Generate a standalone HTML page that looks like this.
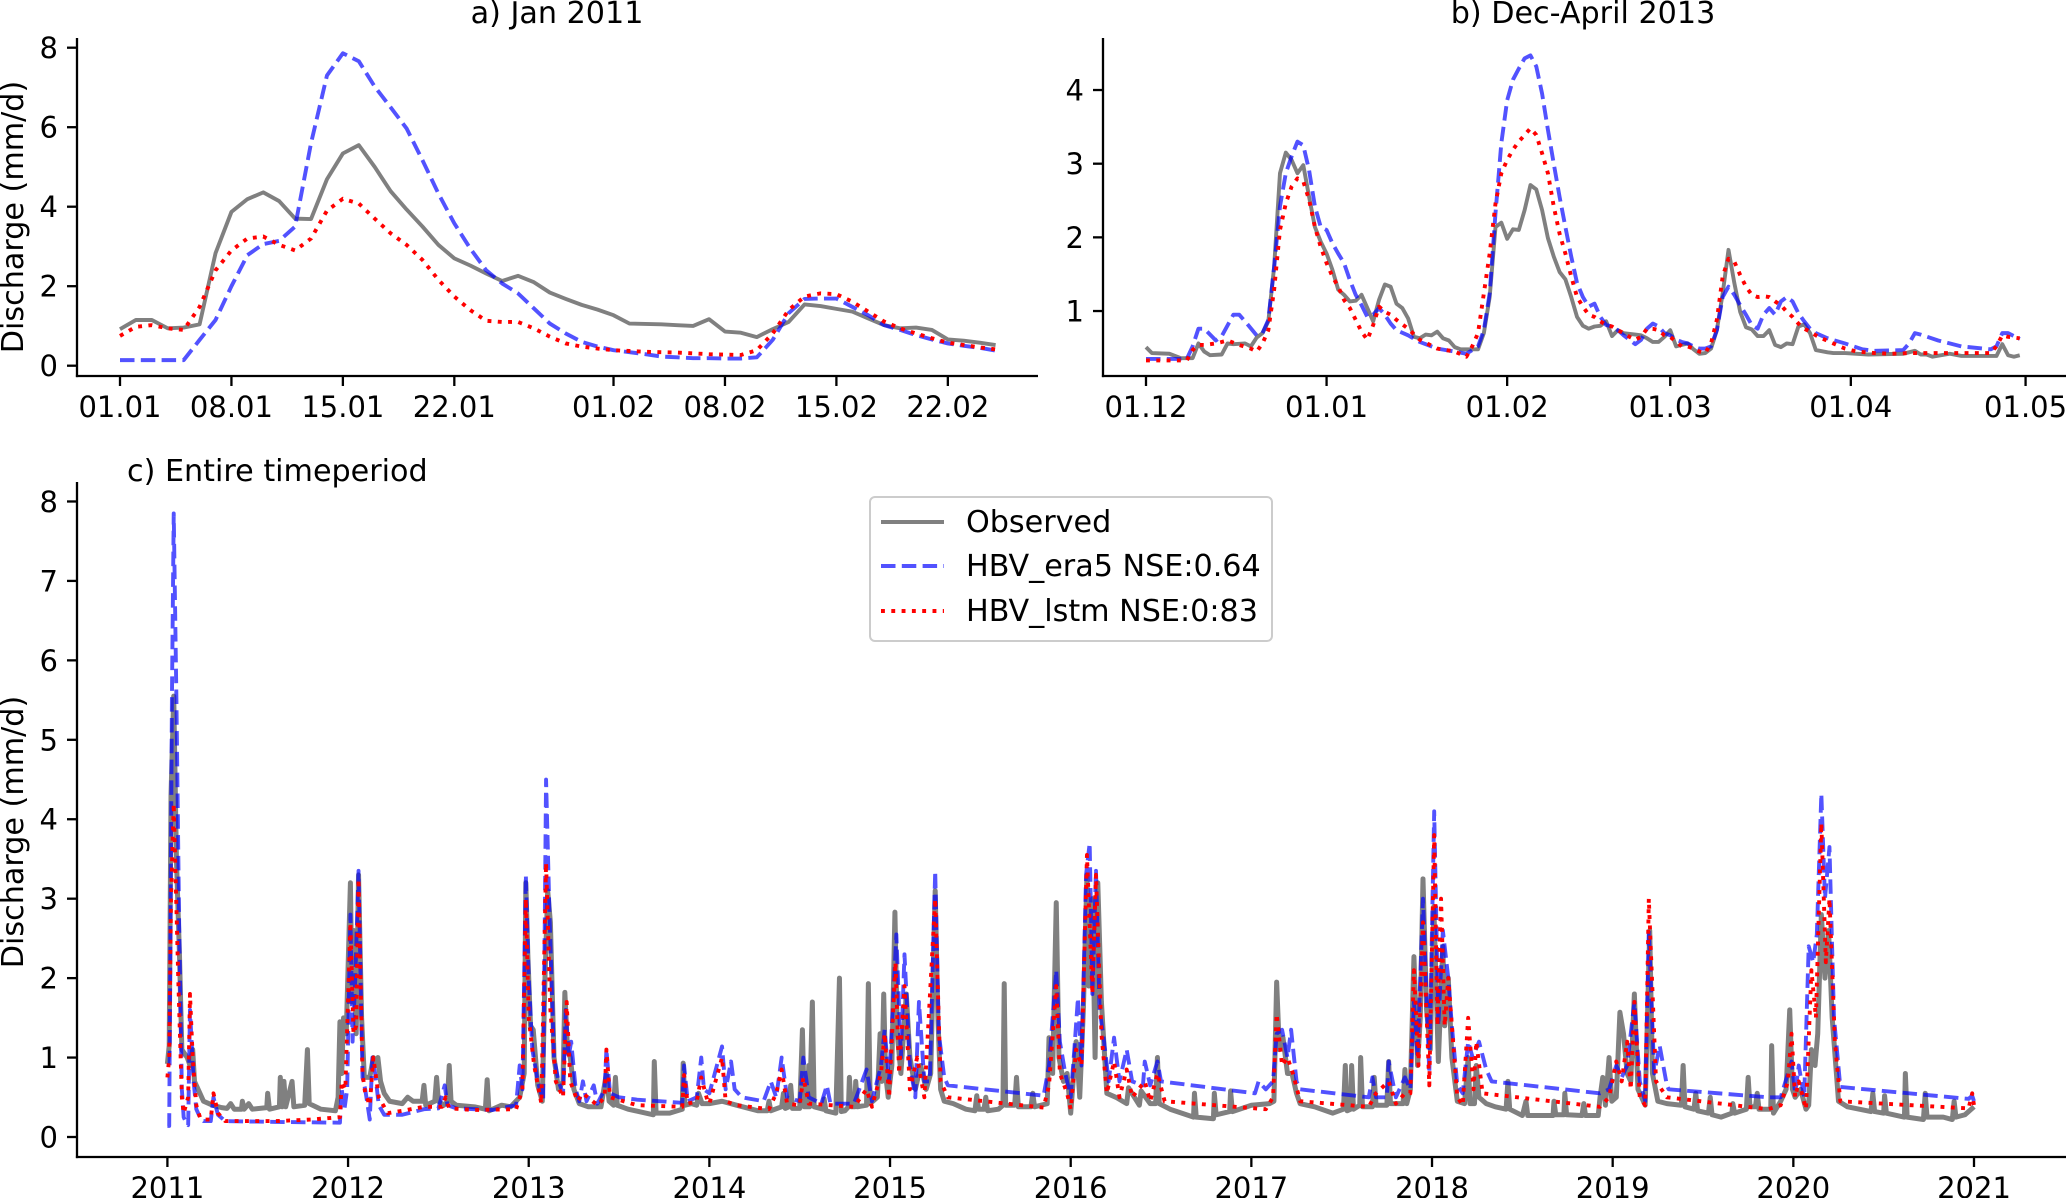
<!DOCTYPE html>
<html lang="en">
<head>
<meta charset="utf-8">
<title>Discharge comparison</title>
<style>
html,body{margin:0;padding:0;background:#fff;width:2067px;height:1198px;overflow:hidden}
svg{display:block}
text{font-family:"DejaVu Sans","Liberation Sans",sans-serif;font-size:29px;fill:#000}
text.big{font-size:30.2px}
</style>
</head>
<body>
<svg id="figure" width="2067" height="1198" viewBox="0 0 2067 1198" xmlns="http://www.w3.org/2000/svg">
  <rect width="2067" height="1198" fill="#fff"/>
  <g id="panel-a"></g>
  <g id="panel-b"></g>
  <g id="panel-c"></g>
  <text class="big" x="557" y="23" text-anchor="middle">a) Jan 2011</text>
  <text class="big" x="1583" y="23" text-anchor="middle">b) Dec-April 2013</text>
  <text class="big" x="127" y="481">c) Entire timeperiod</text>
  <text class="big" transform="translate(23,217) rotate(-90)" text-anchor="middle">Discharge (mm/d)</text>
  <text class="big" transform="translate(23,832) rotate(-90)" text-anchor="middle">Discharge (mm/d)</text>
  <g>
    <rect x="870" y="497" width="402" height="144" rx="5" fill="#fff" fill-opacity="0.8" stroke="#ccc" stroke-width="2"/>
    <line x1="881" x2="944" y1="522" y2="522" stroke="#808080" stroke-width="3.9"/>
    <text class="big" x="966" y="532">Observed</text>
    <line x1="881" x2="944" y1="566" y2="566" stroke="#0000ff" stroke-opacity="0.68" stroke-width="3.9" stroke-dasharray="14.5 6.3"/>
    <text class="big" x="966" y="576">HBV_era5 NSE:0.64</text>
    <line x1="881" x2="944" y1="611" y2="611" stroke="#ff0000" stroke-width="3.9" stroke-dasharray="3.9 6.4"/>
    <text class="big" x="966" y="621">HBV_lstm NSE:0:83</text>
  </g>
</svg>
<script>
// ---- Panel a: daily discharge, 1 Jan 2011 onward ----
const aObserved = [.92,1.15,1.15,.94,.96,1.04,2.83,3.87,4.19,4.36,4.14,3.7,3.69,4.69,5.34,5.55,5,4.39,3.93,3.5,3.04,2.7,2.52,2.32,2.13,2.26,2.1,1.84,1.68,1.53,1.41,1.27,1.06,1.05,1.04,1.02,1,1.17,.86,.83,.72,.92,1.1,1.54,1.5,1.43,1.36,1.19,1.02,.94,.96,.9,.66,.63,.58,.52];
const aEra5 = [.14,.14,.14,.14,.14,.65,1.15,2,2.78,3.06,3.14,3.5,5.6,7.3,7.86,7.66,7.02,6.5,5.97,5.17,4.33,3.58,2.95,2.4,2.07,1.82,1.44,1.06,.81,.6,.48,.39,.34,.29,.23,.21,.19,.19,.18,.18,.21,.65,1.32,1.68,1.69,1.69,1.48,1.27,1.02,.9,.77,.66,.56,.5,.45,.38];
const aLstm = [.75,.98,1.02,.94,.9,1.48,2.4,2.9,3.2,3.25,3.04,2.9,3.2,3.9,4.2,4.08,3.7,3.33,3.04,2.66,2.16,1.74,1.4,1.13,1.1,1.1,.94,.73,.56,.48,.43,.39,.37,.35,.34,.33,.31,.29,.28,.27,.39,.81,1.4,1.74,1.82,1.8,1.61,1.36,1.11,.94,.81,.69,.58,.52,.46,.41];
const aTickDays = [0,7,14,21,31,38,45,52];
const aTickLabels = ["01.01","08.01","15.01","22.01","01.02","08.02","15.02","22.02"];
const aYTicks = [0,2,4,6,8];

// ---- Panel b: read vertices, day index from 1 Dec 2012 ----
const bObservedDays = [0,1,4,6,8,9,10,11,13,14,15,17,18,19,20,21,22,23,24,25,26,27,28,29,30,31,32,33,34,35,36,37,38,39,40,41,42,43,44,45,46,47,48,49,50,51,52,53,54,57,58,59,60,61,62,63,64,65,66,67,68,69,70,71,72,73,74,75,76,77,78,79,80,81,82,84,85,86,87,88,89,90,91,92,93,94,95,96,97,98,99,100,101,102,103,104,105,106,107,108,109,110,111,112,113,114,115,117,118,120,124,130,132,133,134,135,138,140,146,147,148,149,150];
const bObserved = [.51,.43,.42,.36,.36,.56,.45,.4,.41,.56,.55,.56,.52,.64,.7,.86,1.6,2.87,3.15,3.05,2.87,2.98,2.55,2.14,1.94,1.78,1.56,1.29,1.22,1.13,1.14,1.22,1.04,.86,1.15,1.36,1.33,1.1,1.04,.9,.65,.63,.68,.67,.72,.63,.6,.51,.48,.48,.7,1.19,2.14,2.2,1.98,2.11,2.1,2.37,2.71,2.65,2.37,1.99,1.74,1.53,1.43,1.19,.92,.8,.76,.79,.8,.86,.66,.74,.7,.68,.67,.63,.58,.58,.65,.74,.52,.54,.56,.48,.42,.43,.49,.74,1.24,1.83,1.38,.99,.78,.75,.66,.66,.74,.54,.51,.56,.55,.79,.82,.7,.47,.44,.43,.43,.41,.42,.46,.41,.41,.38,.42,.39,.39,.55,.4,.38,.4];
const bEra5Days = [0,7,8,9,10,12,13,15,16,17,19,20,21,22,23,24,25,26,27,28,29,30,31,32,33,34,35,36,37,38,39,40,41,42,43,45,47,50,53,55,57,58,59,60,61,62,63,64,65,66,67,68,69,70,71,72,73,74,75,76,77,78,79,80,81,82,83,84,85,86,87,88,89,90,91,92,93,94,95,96,97,98,99,100,101,102,103,104,105,106,107,108,109,110,111,112,113,114,115,117,120,123,125,130,131,132,133,136,140,145,146,147,148,150];
const bEra5 = [.35,.35,.52,.76,.76,.6,.66,.95,.95,.86,.67,.7,.88,1.6,2.42,2.87,3.1,3.3,3.25,2.91,2.42,2.14,2.1,1.92,1.78,1.65,1.42,1.22,1.08,.92,.95,1.04,.95,.83,.74,.67,.58,.49,.45,.42,.52,.74,1.24,2.33,3.28,3.86,4.14,4.29,4.43,4.47,4.32,3.95,3.46,3,2.55,2.14,1.74,1.38,1.19,1.06,1.1,.92,.81,.79,.74,.67,.61,.55,.61,.76,.83,.79,.7,.67,.61,.58,.56,.52,.49,.49,.52,.74,1.19,1.33,1.22,1.08,.95,.81,.76,.95,1.04,.95,1.13,1.19,1.13,.97,.86,.76,.7,.63,.56,.48,.46,.47,.56,.7,.68,.6,.52,.48,.52,.7,.7,.62];
const bLstmDays = [0,7,8,9,10,12,14,16,18,19,20,21,22,23,24,25,26,27,28,29,30,31,32,33,34,35,36,37,38,39,40,41,42,43,45,47,50,53,55,56,57,58,59,60,61,62,63,64,65,66,67,68,69,70,71,72,73,74,75,76,77,78,79,80,81,82,83,84,85,86,87,88,89,90,91,92,93,94,95,96,97,98,99,100,101,102,103,104,105,106,107,108,109,110,111,112,113,114,115,116,118,120,122,125,128,131,135,140,145,146,147,148,150];
const bLstm = [.33,.33,.47,.54,.54,.56,.6,.54,.49,.45,.56,.74,1.29,2.1,2.46,2.69,2.8,2.76,2.51,2.14,1.87,1.65,1.47,1.33,1.15,1.04,.88,.72,.61,.81,1.06,.99,.95,.88,.76,.61,.49,.45,.38,.52,.7,1.24,1.78,2.46,2.87,3.05,3.19,3.3,3.39,3.48,3.39,3.14,2.87,2.42,2.05,1.78,1.47,1.19,1.06,.95,.92,.86,.81,.79,.74,.7,.65,.61,.65,.76,.76,.74,.67,.65,.58,.52,.52,.49,.45,.43,.56,.88,1.47,1.71,1.67,1.49,1.33,1.22,1.19,1.2,1.19,1.13,1.08,.99,.92,.83,.76,.72,.67,.63,.56,.49,.45,.43,.42,.43,.43,.43,.43,.52,.67,.65,.63];
const bTickDays = [0,31,62,90,121,151];
const bTickLabels = ["01.12","01.01","01.02","01.03","01.04","01.05"];
const bYTicks = [1,2,3,4];

// ---- Panel c: read vertices, decimal years ----
const cObservedYears = [
2011,2011.01,2011.02,2011.035,2011.05,2011.067,2011.08,2011.11,2011.125,2011.14,2011.15,2011.17,2011.2,2011.25,2011.3,2011.33,2011.35,2011.37,
2011.41,2011.415,2011.425,2011.45,2011.47,2011.55,2011.555,2011.565,2011.62,2011.625,2011.635,2011.645,2011.655,2011.69,2011.7,2011.76,2011.775,2011.785,2011.85,2011.93,2011.945,
2011.955,2011.965,2011.975,2011.99,2012.013,2012.022,2012.032,2012.045,2012.058,2012.075,2012.09,2012.12,2012.14,2012.155,2012.165,2012.18,2012.2,2012.23,
2012.3,2012.33,2012.36,2012.41,2012.42,2012.43,2012.48,2012.49,2012.5,2012.53,2012.55,2012.56,2012.57,2012.6,2012.7,2012.76,2012.77,2012.78,2012.85,2012.9,2012.95,
2012.975,2012.984,2012.995,2013.01,2013.025,2013.05,2013.075,2013.09,2013.105,2013.12,2013.14,2013.165,2013.19,2013.2,2013.215,2013.23,2013.25,2013.28,
2013.33,2013.4,2013.43,2013.445,2013.47,2013.48,2013.49,2013.55,2013.65,2013.69,2013.695,2013.705,2013.78,2013.85,2013.855,2013.865,2013.9,2013.93,2013.94,2013.96,
2014,2014.07,2014.15,2014.27,2014.32,2014.33,2014.34,2014.4,2014.41,2014.42,2014.44,2014.45,2014.46,2014.5,2014.515,2014.525,2014.545,2014.55,2014.555,2014.57,2014.58,2014.63,2014.635,2014.645,2014.7,2014.72,2014.73,2014.75,
2014.77,2014.775,2014.785,2014.805,2014.81,2014.82,2014.87,2014.88,2014.89,2014.93,2014.945,2014.955,2014.965,2014.975,2014.99,2015.01,2015.027,2015.04,2015.06,2015.09,2015.11,2015.14,2015.17,2015.2,2015.225,2015.25,2015.265,2015.28,2015.3,
2015.35,2015.42,2015.47,2015.48,2015.49,2015.52,2015.53,2015.54,2015.6,2015.625,2015.632,2015.64,2015.69,2015.7,2015.71,2015.78,2015.79,2015.8,2015.87,2015.88,2015.9,2015.92,2015.935,2015.96,2015.98,
2016,2016.03,2016.05,2016.07,2016.09,2016.1,2016.12,2016.135,2016.15,2016.17,2016.2,2016.25,2016.31,2016.32,2016.38,2016.39,2016.44,2016.47,2016.48,2016.49,2016.55,2016.68,2016.685,2016.695,2016.79,2016.795,2016.805,2016.88,2016.885,2016.895,
2017,2017.1,2017.125,2017.14,2017.155,2017.175,2017.2,2017.225,2017.25,2017.27,2017.35,2017.45,2017.51,2017.52,2017.53,2017.55,2017.555,2017.565,2017.6,2017.605,2017.615,2017.67,2017.68,2017.69,2017.75,2017.76,2017.77,2017.84,2017.85,2017.86,
2017.88,2017.9,2017.92,2017.935,2017.95,2017.97,2017.99,2018.01,2018.035,2018.06,2018.07,2018.09,2018.11,2018.14,2018.18,2018.2,2018.21,2018.235,2018.245,2018.26,2018.3,2018.35,2018.41,2018.42,2018.43,2018.5,2018.52,2018.53,2018.58,2018.67,2018.675,2018.685,2018.73,2018.735,2018.745,2018.83,2018.84,2018.85,2018.92,
2018.93,2018.945,2018.96,2018.98,2018.995,2019.02,2019.04,2019.06,2019.08,2019.1,2019.12,2019.14,2019.16,2019.18,2019.205,2019.22,2019.25,2019.3,2019.38,2019.39,2019.4,2019.45,2019.46,2019.47,2019.53,2019.54,2019.55,2019.6,2019.66,2019.665,2019.675,2019.74,2019.75,2019.76,2019.79,2019.8,2019.81,2019.875,2019.88,2019.89,2019.93,2019.96,2019.98,2019.995,
2020.01,2020.04,2020.07,2020.085,2020.1,2020.12,2020.135,2020.155,2020.175,2020.195,2020.215,2020.25,2020.3,2020.43,2020.44,2020.45,2020.5,2020.505,2020.515,2020.615,2020.62,2020.63,2020.72,2020.73,2020.74,2020.83,2020.88,2020.89,2020.9,2020.95,2021];
const cObserved = [
.92,1.15,4.3,5.55,3.5,2.28,1.1,1,.9,1.1,.7,.6,.45,.4,.37,.36,.42,.35,
.35,.45,.35,.42,.35,.37,.55,.35,.38,.75,.38,.7,.38,.7,.38,.4,1.1,.42,.35,.33,.5,
1.45,.8,1.5,1.3,3.2,1.7,2.6,1.3,3.3,1.5,.75,.75,1,.9,1,.7,.55,.45,
.42,.5,.45,.45,.65,.4,.45,.75,.45,.4,.45,.9,.45,.4,.38,.35,.72,.33,.4,.38,.5,
.8,3.2,2.3,1.4,1.35,.65,.45,2,3.1,2.7,1,.6,.7,1.82,1.1,1,.6,.42,
.38,.38,.8,.45,.4,.75,.4,.35,.3,.28,.95,.3,.3,.35,.93,.4,.42,.4,.55,.42,
.42,.45,.4,.33,.33,.45,.33,.38,.55,.36,.38,.65,.36,.36,1.35,.38,.38,.9,.38,1.7,.38,.35,.48,.33,.3,2,.32,.33,
.38,.75,.38,.38,.7,.38,.4,1.93,.42,.5,1.3,.7,1.8,.8,.5,.9,2.83,1.3,.8,1.8,1,.6,.9,.6,.8,3.1,1.5,.6,.45,
.42,.35,.33,.52,.35,.35,.5,.33,.35,.4,1.93,.4,.4,.75,.38,.38,.55,.38,.42,1.25,.8,2.95,1,.7,.8,
.3,1.2,.5,1.6,3.3,1.9,3,1,3.2,1.7,.55,.5,.42,.62,.4,.58,.42,.42,1,.42,.35,.25,.55,.25,.23,.55,.28,.32,.58,.32,
.4,.42,.45,1.95,1.1,1.25,.8,.8,.55,.42,.38,.3,.35,.9,.33,.35,.9,.35,.4,1,.38,.38,.75,.4,.4,.95,.42,.42,.85,.42,
.6,2.27,.9,1.5,3.25,1.6,1.1,2.9,.95,2.4,1.4,2,1,.45,.42,1,.42,.42,.9,.5,.42,.38,.35,.7,.35,.27,.45,.27,.27,.27,.45,.28,.28,.55,.28,.27,.42,.27,.27,
.5,.75,.4,1,.45,.5,1.57,1.3,.8,.7,1.8,.6,.5,.4,2.6,.8,.45,.42,.4,.9,.38,.35,.55,.33,.3,.5,.28,.25,.3,.42,.3,.35,.75,.38,.38,.55,.35,.35,1.15,.3,.45,.6,1.6,.6,
.5,.6,.35,.4,1.1,.9,1.3,2.8,2,2.6,1.5,.45,.38,.32,.55,.32,.3,.52,.3,.25,.8,.25,.22,.55,.25,.25,.22,.45,.25,.28,.38];

const cEra5Years = [
2011,2011.01,2011.025,2011.035,2011.05,2011.065,2011.08,2011.09,2011.1,2011.115,2011.125,2011.145,2011.16,2011.18,2011.2,2011.24,2011.255,2011.28,2011.32,2011.6,2011.955,
2011.965,2011.98,2011.995,2012.013,2012.025,2012.04,2012.058,2012.08,2012.095,2012.12,2012.135,2012.15,2012.17,2012.2,2012.3,2012.42,2012.5,2012.535,2012.55,2012.6,2012.8,2012.93,
2012.95,2012.965,2012.984,2013,2013.02,2013.05,2013.08,2013.096,2013.115,2013.14,2013.165,2013.19,2013.205,2013.22,2013.235,2013.26,2013.28,2013.3,2013.32,2013.36,2013.38,2013.42,2013.43,2013.45,2013.5,2013.6,2013.85,2013.86,2013.88,2013.93,2013.955,2013.97,
2014,2014.07,2014.09,2014.12,2014.14,2014.18,2014.3,2014.34,2014.37,2014.4,2014.43,2014.5,2014.52,2014.55,2014.62,2014.65,2014.67,2014.8,2014.87,2014.9,2014.95,2014.97,2014.995,2015.035,2015.06,2015.08,2015.11,2015.14,2015.16,2015.19,2015.22,2015.25,2015.27,2015.3,2015.32,2015.85,2015.88,
2015.92,2015.94,2015.97,2016,2016.02,2016.04,2016.06,2016.085,2016.105,2016.12,2016.14,2016.16,2016.185,2016.21,2016.24,2016.27,2016.31,2016.34,2016.4,2016.41,2016.44,2016.48,2016.5,2017.02,2017.04,2017.08,2017.12,2017.14,2017.17,2017.2,2017.22,2017.25,2017.27,2017.65,2017.67,2017.69,2017.75,2017.76,2017.8,2017.85,2017.88,
2017.9,2017.92,2017.95,2017.985,2018.012,2018.035,2018.06,2018.09,2018.11,2018.14,2018.17,2018.2,2018.225,2018.26,2018.3,2018.33,2018.93,2018.98,2019.02,2019.05,2019.08,2019.12,2019.15,2019.18,2019.2,2019.23,2019.26,2019.3,2019.31,2019.86,2019.93,2019.99,2020.01,2020.03,2020.06,2020.085,2020.11,2020.13,2020.155,2020.175,2020.2,2020.225,2020.26,2020.97,2020.99,2021];
const cEra5 = [
.14,.14,5.5,7.85,5.5,2.7,.6,.25,.2,.15,1.6,.7,.35,.25,.2,.2,.5,.28,.2,.19,.18,
.6,.35,.6,2.8,1.2,2,3.35,.75,.6,.22,1,.8,.4,.28,.28,.35,.36,.65,.4,.36,.34,.4,
.9,.6,3.3,2,1.1,.7,.45,4.5,2.8,1,.7,.55,1.6,1,1.2,.6,.45,.7,.45,.65,.42,.6,1.1,.55,.5,.47,.43,.9,.45,.5,1,.6,
.55,1.14,.6,.95,.6,.5,.45,.7,.5,1,.5,.45,1,.5,.42,.65,.42,.42,.85,.45,.9,1.35,.7,2.55,1,2.3,.9,.5,1.7,.7,.7,3.35,1.3,.75,.65,.52,.9,
2.1,1.2,.8,.5,1.1,1.75,.9,3.3,3.7,1.8,3.35,1.6,1.2,.7,1.25,.7,1.1,.7,.65,.95,.65,.95,.7,.55,.7,.6,.7,1.3,1.35,1,1.35,.7,.6,.5,.75,.5,.5,.95,.5,.75,.6,
1.7,1,3,.8,4.1,1.4,2.6,2,1.4,.65,.55,1.2,1,1.2,.85,.7,.55,.6,.9,.75,.9,1.7,.7,.45,2.6,.8,1.15,.65,.6,.5,.5,.95,.55,.9,.5,2.4,2.2,2.55,4.32,3,3.65,1.5,.63,.48,.52,.45];

const cLstmYears = [
2011,2011.01,2011.02,2011.035,2011.06,2011.08,2011.09,2011.115,2011.125,2011.14,2011.16,2011.18,2011.2,2011.24,2011.255,2011.28,2011.32,2011.6,2011.8,2011.955,
2011.965,2011.985,2012.013,2012.03,2012.045,2012.058,2012.08,2012.095,2012.12,2012.14,2012.17,2012.22,2012.3,2012.42,2012.52,2012.54,2012.56,2012.7,2012.93,
2012.965,2012.984,2013,2013.03,2013.07,2013.096,2013.12,2013.15,2013.19,2013.21,2013.23,2013.27,2013.3,2013.38,2013.42,2013.43,2013.45,2013.6,2013.85,2013.86,2013.88,2013.93,2013.955,2013.99,
2014,2014.07,2014.09,2014.15,2014.33,2014.37,2014.4,2014.43,2014.5,2014.52,2014.55,2014.8,2014.87,2014.9,2014.95,2014.97,2014.995,2015.03,2015.05,2015.08,2015.11,2015.15,2015.19,2015.25,2015.28,2015.32,2015.85,2015.88,
2015.92,2015.94,2015.98,2016,2016.03,2016.06,2016.09,2016.12,2016.14,2016.17,2016.2,2016.24,2016.27,2016.31,2016.34,2016.41,2016.44,2016.48,2016.52,2017.08,2017.12,2017.14,2017.17,2017.2,2017.23,2017.27,2017.65,2017.69,2017.76,2017.8,2017.85,2017.88,
2017.9,2017.925,2017.95,2017.985,2018.012,2018.03,2018.05,2018.07,2018.09,2018.14,2018.17,2018.2,2018.23,2018.245,2018.28,2018.93,2018.98,2019.02,2019.05,2019.08,2019.1,2019.12,2019.15,2019.18,2019.2,2019.24,2019.3,2019.86,2019.93,2019.97,2019.99,2020.01,2020.03,2020.07,2020.1,2020.125,2020.155,2020.18,2020.2,2020.23,2020.26,2020.97,2020.99,2021];
const cLstm = [
.75,1,3,4.2,2,.5,.3,.5,1.8,1,.4,.25,.22,.22,.55,.3,.2,.2,.22,.25,
.7,.6,2.7,1.3,1.4,3.25,.8,.55,.4,1,.5,.3,.33,.38,.38,.5,.36,.34,.35,
.6,3,1.5,.9,.42,3.45,1.6,.7,.5,1.7,.7,.45,.55,.4,.5,1.1,.5,.4,.38,.78,.42,.45,.75,.45,
.42,1,.45,.4,.35,.55,.85,.42,.4,.75,.42,.38,.6,.38,.8,1.3,.5,2.2,.8,1.9,.6,1,.5,3,.7,.5,.37,.65,
1.9,.8,.55,.35,1.1,.9,3.55,1.8,3.3,1.3,.55,.95,.5,.85,.5,.7,.45,.8,.45,.35,.5,1.55,.9,1,.8,.45,.38,.55,.7,.42,.55,.55,
2.1,.9,2.7,.65,3.8,1.4,3,1.4,2,.5,.4,1.5,.6,1.2,.55,.38,.5,.95,.7,1.2,.6,1.7,.5,.4,3,.7,.5,.35,.4,.7,1.3,.5,.7,.35,2.1,1.5,3.95,2.2,3,1.2,.45,.36,.55,.4];
const cTickYears = [2011,2012,2013,2014,2015,2016,2017,2018,2019,2020,2021];
const cYTicks = [0,1,2,3,4,5,6,7,8];

const NS = 'http://www.w3.org/2000/svg';
const LW = 3.9;

function xA(d){ return 120 + 15.92 * d; }
function yA(v){ return 365.7 - 39.75 * v; }
function xB(d){ return 1146 + 5.825 * d; }
function yB(v){ return 384.7 - 73.67 * v; }
function xC(t){ return 167.4 + 180.66 * (t - 2011); }
function yC(v){ return 1137 - 79.44 * v; }

function pathOf(xs, ys, fx, fy){
  let s = '';
  for (let i = 0; i < ys.length; i++) {
    s += (i ? 'L' : 'M') + fx(xs[i]).toFixed(2) + ' ' + fy(ys[i]).toFixed(2);
  }
  return s;
}
function seriesPath(parent, d, kind, name, width){
  const p = document.createElementNS(NS, 'path');
  
  
  p.setAttribute('d', d);
  p.setAttribute('fill', 'none');
  p.setAttribute('stroke-width', width || LW);
  p.setAttribute('stroke-linejoin', 'round');
  if (kind === 'obs') { p.setAttribute('stroke', '#808080'); }
  if (kind === 'era5') { p.setAttribute('stroke', '#0000ff'); p.setAttribute('stroke-opacity', '0.68'); p.setAttribute('stroke-dasharray', '14.5 6.3'); }
  if (kind === 'lstm') { p.setAttribute('stroke', '#ff0000'); p.setAttribute('stroke-dasharray', '3.9 6.4'); }
  parent.appendChild(p);
}
function axisLine(parent, x1, y1, x2, y2, w, name){
  const l = document.createElementNS(NS, 'line');
  
  
  l.setAttribute('x1', x1); l.setAttribute('y1', y1);
  l.setAttribute('x2', x2); l.setAttribute('y2', y2);
  l.setAttribute('stroke', '#000');
  l.setAttribute('stroke-width', w);
  parent.appendChild(l);
}
function label(parent, x, y, str, anchor, name){
  const t = document.createElementNS(NS, 'text');
  
  
  t.setAttribute('x', x); t.setAttribute('y', y);
  t.setAttribute('text-anchor', anchor);
  t.textContent = str;
  parent.appendChild(t);
}
function frame(parent, left, top, bottom, right, xVals, xLabels, fx, yVals, fy, labelY, prefix){
  axisLine(parent, left, top, left, bottom + 1.1, 2.3, prefix + '-y-axis-line');
  axisLine(parent, left - 1.1, bottom, right, bottom, 2.3, prefix + '-x-axis-line');
  xVals.forEach(function(v, i){
    axisLine(parent, fx(v), bottom, fx(v), bottom + 10, 2.3, prefix + '-x-tick');
    label(parent, fx(v), labelY, xLabels[i], 'middle', prefix + '-x-tick-label');
  });
  yVals.forEach(function(v){
    axisLine(parent, left, fy(v), left - 10, fy(v), 2.3, prefix + '-y-tick');
    label(parent, left - 19, fy(v) + 10.5, String(v), 'end', prefix + '-y-tick-label');
  });
}

const gA = document.getElementById('panel-a');
const gB = document.getElementById('panel-b');
const gC = document.getElementById('panel-c');

const aDays = aObserved.map(function(_, i){ return i; });
frame(gA, 77, 38, 376, 1038, aTickDays, aTickLabels, xA, aYTicks, yA, 417, 'panel-a');
seriesPath(gA, pathOf(aDays, aObserved, xA, yA), 'obs', 'panel-a-observed-line');
seriesPath(gA, pathOf(aDays, aEra5, xA, yA), 'era5', 'panel-a-hbv-era5-line');
seriesPath(gA, pathOf(aDays, aLstm, xA, yA), 'lstm', 'panel-a-hbv-lstm-line');

frame(gB, 1103, 38, 376, 2066, bTickDays, bTickLabels, xB, bYTicks, yB, 417, 'panel-b');
seriesPath(gB, pathOf(bObservedDays, bObserved, xB, yB), 'obs', 'panel-b-observed-line');
seriesPath(gB, pathOf(bEra5Days, bEra5, xB, yB), 'era5', 'panel-b-hbv-era5-line');
seriesPath(gB, pathOf(bLstmDays, bLstm, xB, yB), 'lstm', 'panel-b-hbv-lstm-line');

frame(gC, 77, 482, 1157, 2066, cTickYears, cTickYears.map(String), xC, cYTicks, yC, 1198, 'panel-c');
seriesPath(gC, pathOf(cObservedYears, cObserved, xC, yC), 'obs', 'panel-c-observed-line', 5);
seriesPath(gC, pathOf(cEra5Years, cEra5, xC, yC), 'era5', 'panel-c-hbv-era5-line');
seriesPath(gC, pathOf(cLstmYears, cLstm, xC, yC), 'lstm', 'panel-c-hbv-lstm-line');
</script>
</body>
</html>
